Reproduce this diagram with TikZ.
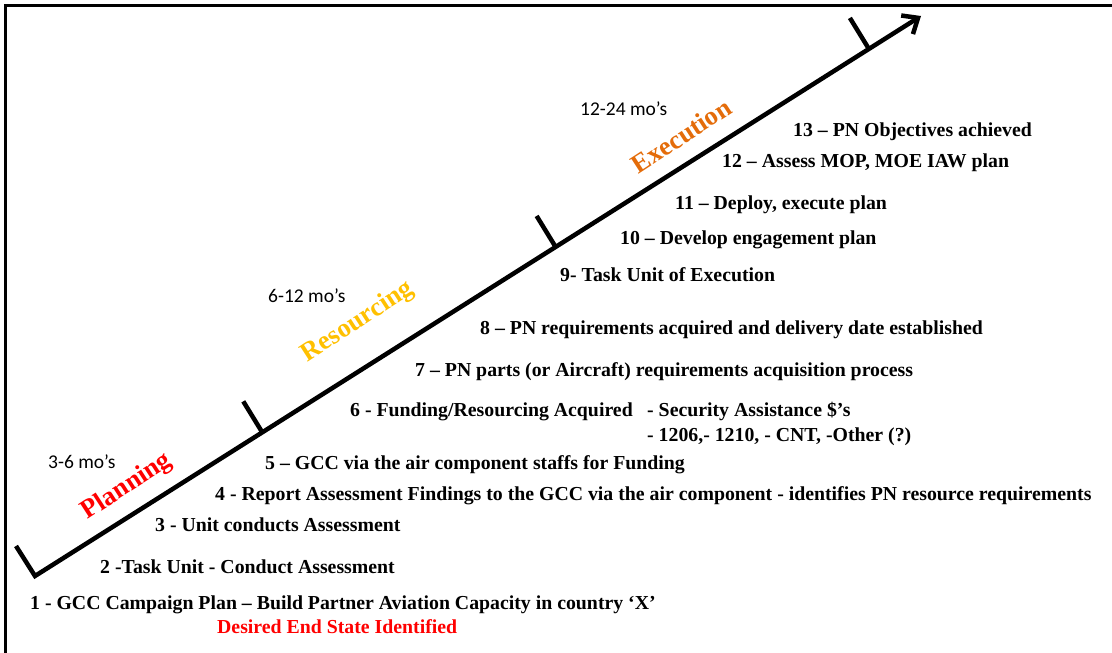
\documentclass[tikz,border=0pt]{standalone}
\usepackage{fontspec}
\setmainfont{Liberation Serif}
\newfontfamily\calfont{Carlito}
\usetikzlibrary{arrows.meta,calc}
\definecolor{planred}{RGB}{255,0,0}
\definecolor{resgold}{RGB}{255,192,0}
\definecolor{exorange}{RGB}{228,108,10}
\begin{document}
\begin{tikzpicture}[x=1pt,y=-1pt,
  itemtext/.style={anchor=base west, font=\bfseries\fontsize{19.8}{22}\selectfont, inner sep=0pt},
  motext/.style={anchor=base west, font=\calfont\fontsize{19.5}{22}\selectfont, inner sep=0pt},
  phase/.style={font=\bfseries\fontsize{26.5}{30}\selectfont, rotate=33, inner sep=0pt},
  timeline/.style={line width=4.5pt},
]
\useasboundingbox (0,0) rectangle (1112,653);
\draw[line width=2.5pt] (5.5,653) -- (5.5,5.5) -- (1112,5.5);
\coordinate (S) at (35,576);
\coordinate (E) at (921,16);
\coordinate (B0) at (16,546);
\draw[timeline, -{Straight Barb[length=13pt,width=22pt]}] (B0) -- (S) -- (E);
\coordinate (T1) at ($(S)!0.2565!(E)$);
\coordinate (T2) at ($(S)!0.5876!(E)$);
\coordinate (T3) at ($(S)!0.9412!(E)$);
\draw[timeline] (T1) -- ++(-19,-31);
\draw[timeline] (T2) -- ++(-19,-31);
\draw[timeline] (T3) -- ++(-19,-31);

\node[itemtext] (i1) at (30,609) {1 - GCC Campaign Plan – Build Partner Aviation Capacity in country ‘X’};
\node[itemtext, text=planred] (i1b) at (217,633) {Desired End State Identified};
\node[itemtext] (i2) at (100,573) {2 -Task Unit - Conduct Assessment};
\node[itemtext] (i3) at (155,531) {3 - Unit conducts Assessment};
\node[itemtext] (i4) at (215,500) {4 - Report Assessment Findings to the GCC via the air component - identifies PN resource requirements};
\node[itemtext] (i5) at (265,469) {5 – GCC via the air component staffs for Funding};
\node[itemtext] (i6) at (350,416) {6 - Funding/Resourcing Acquired};
\node[itemtext] (i6a) at (647,416) {- Security Assistance \$’s};
\node[itemtext] (i6b) at (647,441) {- 1206,- 1210, - CNT, -Other (?)};
\node[itemtext] (i7) at (415,376) {7 – PN parts (or Aircraft) requirements acquisition process};
\node[itemtext] (i8) at (480,334) {8 – PN requirements acquired and delivery date established};
\node[itemtext] (i9) at (560,281) {9- Task Unit of Execution};
\node[itemtext] (i10) at (620,244) {10 – Develop engagement plan};
\node[itemtext] (i11) at (675,209) {11 – Deploy, execute plan};
\node[itemtext] (i12) at (722,167) {12 – Assess MOP, MOE IAW plan};
\node[itemtext] (i13) at (793,136) {13 – PN Objectives achieved};

\node[motext] (m1) at (48,468) {3-6 mo’s};
\node[motext] (m2) at (268,302) {6-12 mo’s};
\node[motext] (m3) at (580,115) {12-24 mo’s};

\node[phase, text=planred] (p1) at (127,487) {Planning};
\node[phase, text=resgold] (p2) at (358,322) {Resourcing};
\node[phase, text=exorange] (p3) at (681,136) {Execution};
\end{tikzpicture}
\end{document}
